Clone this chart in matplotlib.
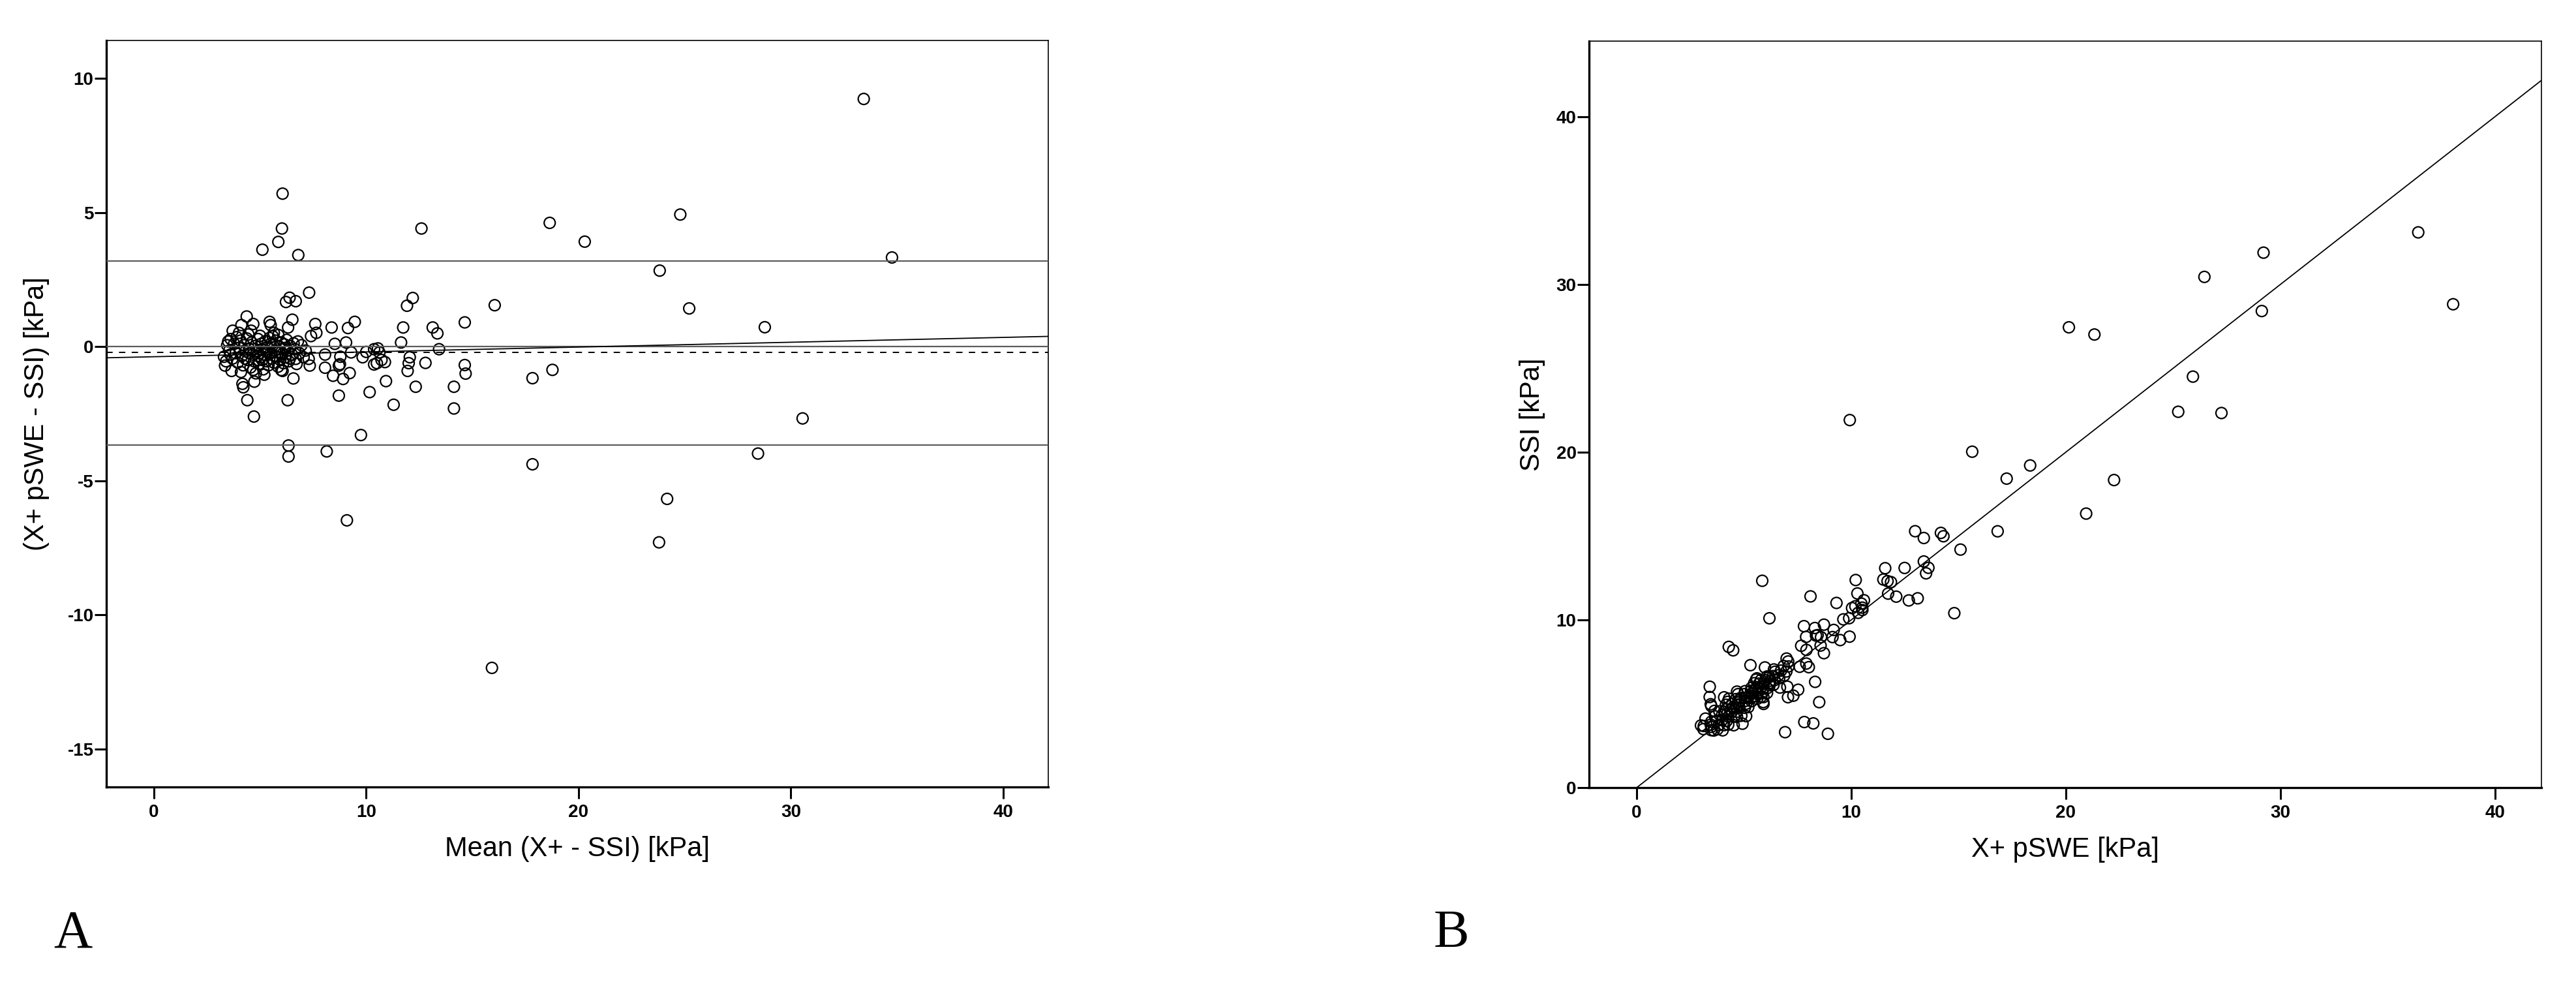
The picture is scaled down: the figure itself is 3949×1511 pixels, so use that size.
import numpy as np
import matplotlib.pyplot as plt

plt.rcParams["font.family"] = ["Liberation Sans", "DejaVu Sans"]
plt.rcParams["axes.unicode_minus"] = False

# Panel A (Bland-Altman).
# Spread-out points: mean of the two methods and difference X+ pSWE - SSI [kPa]
mean_spread = [33.43, 34.76, 24.79, 18.64, 20.29, 23.82, 25.21, 28.77, 30.55, 28.45,
               24.17, 23.79, 17.83, 17.83, 18.77, 15.92, 16.05, 14.64, 14.64, 14.68,
               14.13, 14.13, 12.60, 12.19, 11.92, 11.74, 11.64, 13.13, 13.35, 13.43,
               12.05, 12.00, 11.95, 12.79, 12.33, 11.29, 10.93, 10.16, 9.75, 9.09,
               8.14, 8.71, 8.91, 8.44, 9.22, 8.06, 8.71, 8.76, 10.88, 10.72,
               10.37, 10.50, 10.62, 10.55, 10.37, 10.00, 9.83, 9.29, 8.78, 8.06,
               8.52, 9.05, 8.37, 9.14, 9.46, 7.34, 7.29, 6.68, 7.31, 6.39,
               6.22, 6.68, 6.06, 6.03, 5.86, 5.11, 6.80, 6.34, 6.34, 4.71,
               4.40, 6.30, 4.21, 4.17, 4.73, 6.57, 4.37, 5.45, 5.50, 6.52,
               6.32, 3.71, 4.12, 4.68, 7.60, 7.65, 7.40, 4.01, 4.58, 5.65,
               5.86, 3.50, 6.78, 3.30, 3.35, 3.66, 4.68, 6.06]
diff_spread = [9.23, 3.32, 4.92, 4.61, 3.91, 2.83, 1.42, 0.72, -2.68, -3.99,
               -5.68, -7.30, -4.39, -1.18, -0.87, -11.98, 1.54, 0.90, -0.69, -1.01,
               -1.50, -2.31, 4.40, 1.81, 1.52, 0.71, 0.15, 0.71, 0.49, -0.10,
               -0.40, -0.62, -0.91, -0.61, -1.50, -2.17, -1.29, -1.70, -3.30, -6.48,
               -3.91, -1.83, -1.21, -1.09, -0.99, -0.79, -0.71, -0.66, -0.58, -0.50,
               -0.67, -0.62, -0.22, -0.07, -0.10, -0.20, -0.40, -0.22, -0.38, -0.30,
               0.10, 0.15, 0.71, 0.69, 0.92, -0.71, -0.46, -0.46, 2.01, 1.82,
               1.66, 1.69, 5.70, 4.40, 3.90, 3.61, 3.41, -3.69, -4.10, -2.61,
               -2.00, -2.00, -1.52, -1.39, -1.31, -1.19, 1.12, 0.92, 0.80, 1.00,
               0.71, 0.59, 0.80, 0.84, 0.84, 0.51, 0.39, 0.51, 0.59, 0.51,
               0.43, 0.19, 0.19, -0.38, -0.71, -0.91, -0.87, -0.91]

# Dense cluster of small stiffness values
mean_core = [3.45, 3.55, 3.62, 3.70, 3.78, 3.85, 3.90, 3.95, 4.02, 4.08,
             4.15, 4.20, 4.25, 4.32, 4.38, 4.42, 4.48, 4.55, 4.60, 4.65,
             4.72, 4.78, 4.85, 4.90, 4.95, 5.00, 5.05, 5.10, 5.15, 5.20,
             5.25, 5.30, 5.35, 5.40, 5.45, 5.50, 5.55, 5.60, 5.65, 5.70,
             5.75, 5.80, 5.85, 5.90, 5.95, 6.00, 6.05, 6.10, 6.15, 6.20,
             6.25, 6.30, 6.35, 6.42, 6.50, 6.58, 6.65, 6.72, 6.85, 6.95,
             7.05, 7.15, 4.10, 4.45, 4.80, 5.00, 5.60, 5.20, 6.00, 3.40,
             3.60, 4.30, 4.70, 5.10, 5.50, 5.90, 4.90, 5.30, 5.70, 4.50,
             6.20, 6.40]
diff_core = [0.05, -0.15, 0.28, -0.45, 0.10, -0.25, 0.35, -0.60, -0.05, 0.22,
             -0.35, -0.70, 0.05, -0.18, 0.30, -0.50, -0.08, -0.78, 0.15, -0.30,
             -0.55, 0.02, -0.20, 0.28, -0.65, -0.40, 0.10, -0.12, -0.85, -0.30,
             0.20, -0.55, -0.02, -0.70, 0.32, -0.25, -0.45, 0.05, -0.60, -0.15,
             0.22, -0.38, -0.75, 0.00, -0.50, 0.15, -0.28, -0.62, 0.08, -0.40,
             0.25, -0.15, -0.55, 0.02, -0.30, 0.12, -0.10, -0.65, -0.25, 0.05,
             -0.40, -0.15, -0.95, 0.45, -1.00, 0.40, 0.38, -1.05, -0.88, -0.55,
             -0.30, -0.45, -0.10, -0.50, 0.10, -0.20, -0.35, -0.20, -0.35, -0.25,
             -0.05, -0.45]

# Reference lines of panel A
bias = -0.23
loa_upper = 3.19
loa_lower = -3.68
reg_slope = 0.018
reg_intercept = -0.38

x_ticks = [0, 10, 20, 30, 40]
diff_ticks = [-15, -10, -5, 0, 5, 10]
ssi_ticks = [0, 10, 20, 30, 40]

mean_kpa = np.array(mean_spread + mean_core)
diff_kpa = np.array(diff_spread + diff_core)

# Panel B: the same subjects as pairs of measurements
pswe_kpa = mean_kpa + diff_kpa / 2
ssi_kpa = mean_kpa - diff_kpa / 2

GRAY = "#5c5c5c"


def style_axes(ax):
    for side in ["left", "bottom"]:
        ax.spines[side].set_linewidth(2.4)
    for side in ["top", "right"]:
        ax.spines[side].set_linewidth(1.2)
    ax.tick_params(direction="out", length=13, width=2.2, labelsize=20)
    ax.tick_params(axis="x", pad=6)
    ax.tick_params(axis="y", pad=1)
    for lab in ax.get_xticklabels() + ax.get_yticklabels():
        lab.set_fontweight("bold")


def circles(ax, x, y):
    ax.scatter(x, y, s=150, facecolors="none", edgecolors="black",
               linewidths=1.6, zorder=3)


fig = plt.figure(figsize=(39.49, 15.11), dpi=100)

# A: Bland-Altman plot
ax = fig.add_axes([0.04128, 0.20185, 0.36566, 0.75711])
xlim_a = (-2.24, 42.12)
circles(ax, mean_kpa, diff_kpa)
ax.axhline(0, color=GRAY, lw=1.6, zorder=4)
ax.axhline(loa_upper, color=GRAY, lw=1.6, zorder=4)
ax.axhline(loa_lower, color=GRAY, lw=1.6, zorder=4)
ax.axhline(bias, color="black", lw=1.4, ls=(0, (5, 5)), zorder=4)
xs = np.array(xlim_a)
ax.plot(xs, reg_intercept + reg_slope * xs, color="black", lw=1.3, zorder=4)
ax.set_xlim(*xlim_a)
ax.set_ylim(-16.42, 11.41)
ax.set_xticks(x_ticks)
ax.set_yticks(diff_ticks)
ax.set_xticklabels([str(t) for t in x_ticks])
ax.set_yticklabels([str(t) for t in diff_ticks])
ax.set_xlabel("Mean (X+ - SSI) [kPa]", fontsize=30, labelpad=16)
ax.set_ylabel("(X+ pSWE - SSI) [kPa]", fontsize=30, labelpad=20)
style_axes(ax)

# B: X+ pSWE against SSI with the line of identity
bx = fig.add_axes([0.61687, 0.20119, 0.36971, 0.75711])
xlim_b = (-2.22, 42.16)
circles(bx, pswe_kpa, ssi_kpa)
bx.plot([0, xlim_b[1]], [0, xlim_b[1]], color="black", lw=1.3, zorder=4)
bx.set_xlim(*xlim_b)
bx.set_ylim(0, 44.5)
bx.set_xticks(x_ticks)
bx.set_yticks(ssi_ticks)
bx.set_xticklabels([str(t) for t in x_ticks])
bx.set_yticklabels([str(t) for t in ssi_ticks])
bx.set_xlabel("X+ pSWE [kPa]", fontsize=30, labelpad=16)
bx.set_ylabel("SSI [kPa]", fontsize=30, labelpad=12)
style_axes(bx)

fig.text(0.0208, 0.0397, "A", fontsize=59, family=["Liberation Serif", "DejaVu Serif"])
fig.text(0.5566, 0.0397, "B", fontsize=59, family=["Liberation Serif", "DejaVu Serif"])

fig.savefig("out.png", dpi=100)
